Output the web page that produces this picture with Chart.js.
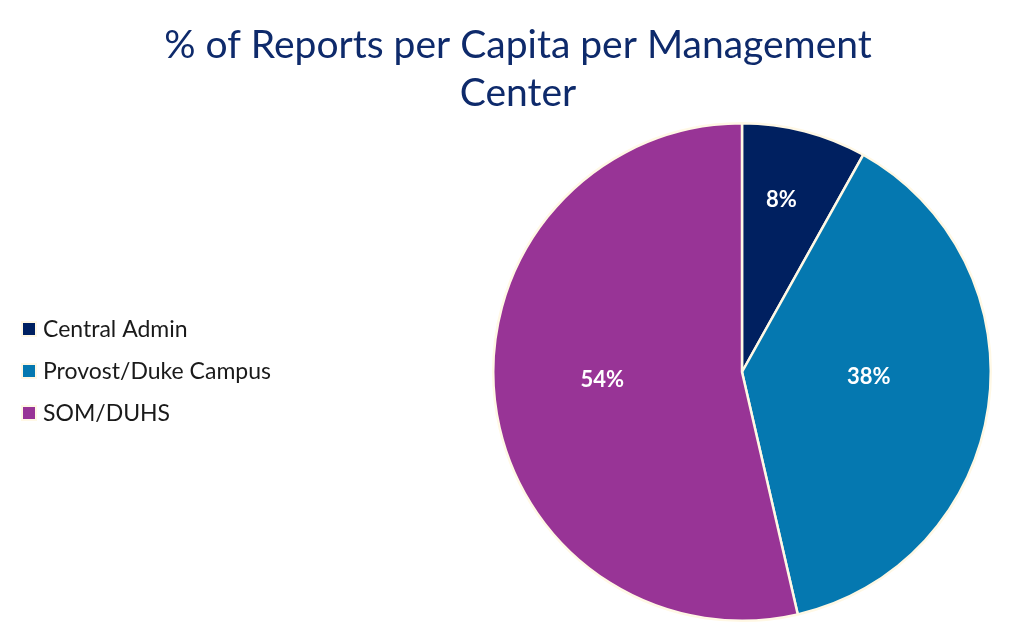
<!DOCTYPE html>
<html><head><meta charset="utf-8">
<script src="https://cdn.jsdelivr.net/npm/chart.js@4"></script>
<style>html,body{margin:0;padding:0;background:#fff;}#wrap{width:1036px;height:623px;}</style>
</head><body><div id="wrap"><canvas id="c" width="1036" height="623"></canvas></div>
<script>
const categories = ['Central Admin', 'Provost/Duke Campus', 'SOM/DUHS'];
const values = [8.1, 38.3, 53.6];
const colors = ['#002060', '#0578B0', '#983496'];
const titleLines = ['% of Reports per Capita per Management', 'Center'];
const FONT = 'Lato, "Open Sans", sans-serif';

const labelPlugin = {
  id: 'sliceLabels',
  afterDatasetsDraw(chart) {
    const ctx = chart.ctx;
    const meta = chart.getDatasetMeta(0);
    const fr = [0.71, 0.51, 0.563];
    const da = [-0.03, -0.1, 0.06];
    ctx.save();
    ctx.fillStyle = '#ffffff';
    ctx.font = 'bold 22px ' + FONT;
    ctx.textAlign = 'center';
    ctx.textBaseline = 'middle';
    meta.data.forEach((arc, i) => {
      const p = arc.getProps(['x','y','startAngle','endAngle','outerRadius'], true);
      const a = (p.startAngle + p.endAngle) / 2 + da[i];
      const r = p.outerRadius * fr[i];
      ctx.fillText(Math.round(values[i]) + '%', p.x + Math.cos(a) * r, p.y + Math.sin(a) * r);
    });
    ctx.restore();
  }
};

const legendTitlePlugin = {
  id: 'leftLegendTitle',
  afterDraw(chart) {
    const ctx = chart.ctx;
    ctx.save();
    ctx.textAlign = 'center';
    ctx.textBaseline = 'middle';
    ctx.fillStyle = '#0E2A6B';
    ctx.font = '36px ' + FONT;
    const w = ctx.measureText(titleLines[0]).width;
    const size = 36 * 707 / w;
    ctx.font = size.toFixed(1) + 'px ' + FONT;
    titleLines.forEach((t, i) => ctx.fillText(t, 518, 45 + i * 48));
    ctx.font = '23px ' + FONT;
    ctx.textAlign = 'left';
    categories.forEach((c, i) => {
      const y = 329 + i * 42;
      ctx.fillStyle = '#FFF8E5';
      ctx.fillRect(21, y - 8, 16, 16);
      ctx.fillStyle = colors[i];
      ctx.fillRect(23, y - 6, 12, 12);
      ctx.fillStyle = '#1a1a1a';
      ctx.fillText(c, 43, y + 1);
    });
    ctx.restore();
  }
};

new Chart(document.getElementById('c'), {
  type: 'pie',
  data: {
    labels: categories,
    datasets: [{ data: values, backgroundColor: colors, borderColor: '#FFF8E5', borderWidth: 2.5 }]
  },
  options: {
    responsive: false,
    animation: false,
    layout: { padding: { left: 492, right: 44, bottom: 1, top: 122 } },
    plugins: {
      legend: { display: false },
      tooltip: { enabled: false },
      title: { display: false }
    }
  },
  plugins: [labelPlugin, legendTitlePlugin]
});
</script></body></html>
